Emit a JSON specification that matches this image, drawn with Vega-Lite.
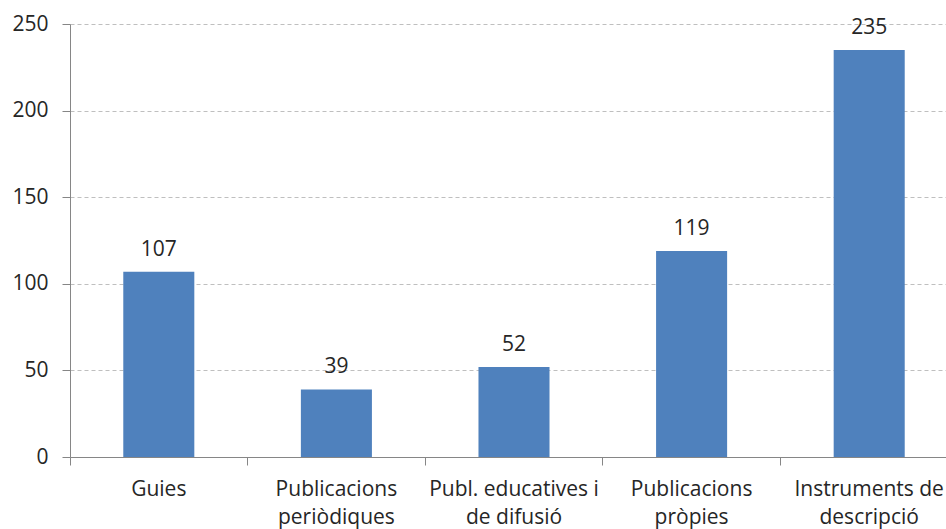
{
  "$schema": "https://vega.github.io/schema/vega-lite/v6.json",
  "autosize": "none",
  "width": 888,
  "height": 433,
  "padding": {"left": 70, "top": 24, "right": 0, "bottom": 72},
  "background": "white",
  "config": {
    "view": {"stroke": null},
    "font": "Open Sans",
    "axis": {"labelFont": "Open Sans", "labelFontSize": 21, "labelColor": "#262626", "domainColor": "#868686", "tickColor": "#868686", "tickSize": 8}
  },
  "data": {
    "values": [
      {"cat": "Guies", "value": 107},
      {"cat": "Publicacions|periòdiques", "value": 39},
      {"cat": "Publ. educatives i|de difusió", "value": 52},
      {"cat": "Publicacions|pròpies", "value": 119},
      {"cat": "Instruments de|descripció", "value": 235}
    ]
  },
  "encoding": {
    "x": {
      "field": "cat", "type": "nominal", "sort": null,
      "scale": {"paddingInner": 0, "paddingOuter": 0},
      "axis": {"title": null, "labelAngle": 0, "bandPosition": 0, "labelExpr": "split(datum.label, '|')", "labelLineHeight": 28, "labelPadding": 13, "labelBaseline": "top"}
    },
    "y": {
      "field": "value", "type": "quantitative",
      "scale": {"domain": [0, 250]},
      "axis": {"title": null, "values": [0, 50, 100, 150, 200, 250], "gridColor": "#bfbfbf", "gridDash": [4, 3], "labelPadding": 14}
    }
  },
  "layer": [
    {"mark": {"type": "bar", "color": "#4F81BD", "width": {"band": 0.4}}},
    {"mark": {"type": "text", "baseline": "alphabetic", "dy": -16, "fontSize": 21, "color": "#262626", "font": "Open Sans"}, "encoding": {"text": {"field": "value"}}}
  ]
}
